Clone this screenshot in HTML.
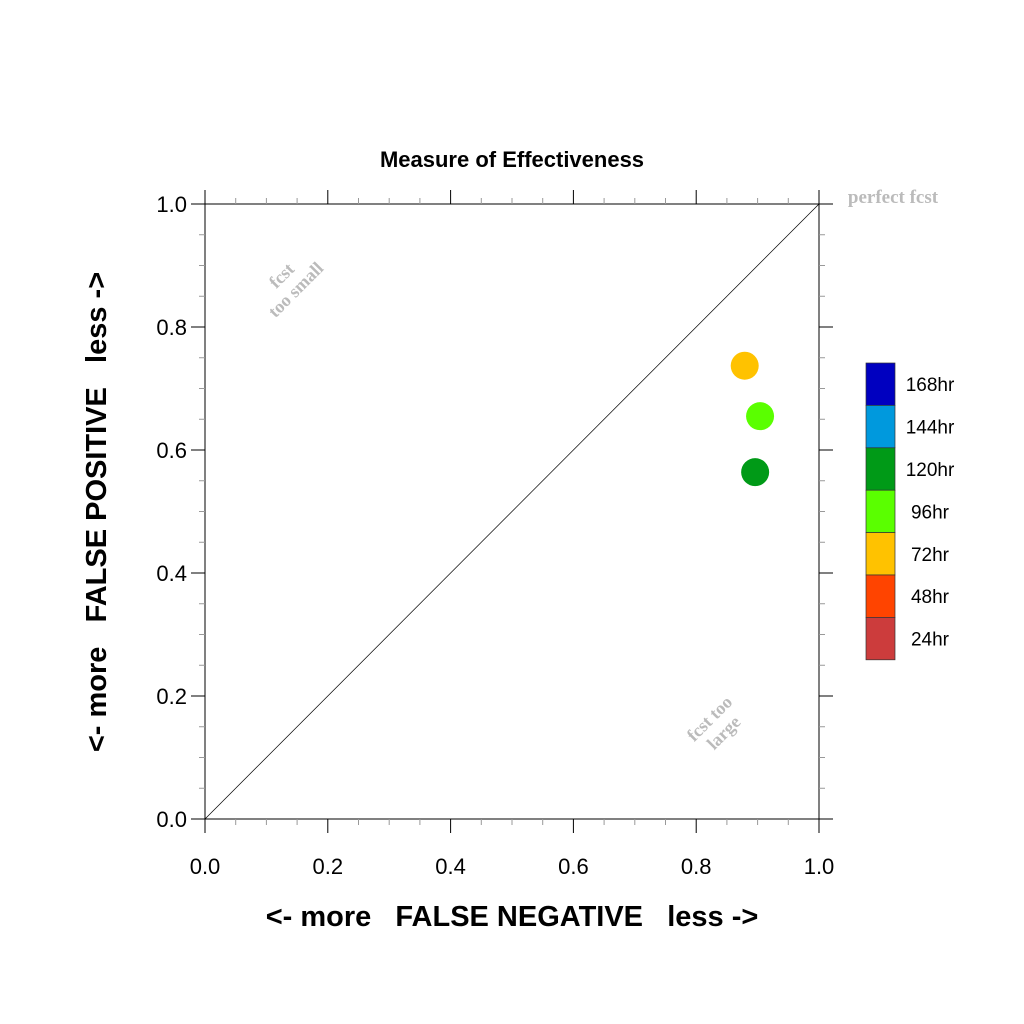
<!DOCTYPE html>
<html><head><meta charset="utf-8"><style>body{margin:0;background:#fff}svg{display:block}</style></head>
<body>
<svg width="1024" height="1024" xmlns="http://www.w3.org/2000/svg" font-family="Liberation Sans, sans-serif">
<rect width="1024" height="1024" fill="#fff"/>
<text x="512" y="167" text-anchor="middle" font-size="22" font-weight="bold">Measure of Effectiveness</text>
<g id="axes"></g>
<g id="marks"></g>
<g id="legend"></g>
<text x="512" y="926" text-anchor="middle" font-size="29" font-weight="bold" xml:space="preserve">&lt;- more   FALSE NEGATIVE   less -&gt;</text>
<text transform="translate(106,512) rotate(-90)" text-anchor="middle" font-size="29" font-weight="bold" xml:space="preserve">&lt;- more   FALSE POSITIVE   less -&gt;</text>
<text x="893" y="203" text-anchor="middle" font-size="19" font-weight="bold" fill="#bbb" font-family="Liberation Serif, serif">perfect fcst</text>
<g transform="translate(290,284) rotate(-45)" fill="#bbb" font-family="Liberation Serif, serif" font-weight="bold" font-size="18" text-anchor="middle"><text x="0" y="-6">fcst</text><text x="0" y="14">too small</text></g>
<g transform="translate(718,727) rotate(-45)" fill="#bbb" font-family="Liberation Serif, serif" font-weight="bold" font-size="18" text-anchor="middle"><text x="0" y="-6">fcst too</text><text x="0" y="14">large</text></g>
</svg>
<script>
const ns="http://www.w3.org/2000/svg";
const seriesLabels=["72hr","96hr","120hr"];
const xValues=[0.879,0.904,0.896];
const yValues=[0.737,0.655,0.564];
const seriesColors=["#ffc200","#5aff00","#009a17"];
const legendLabels=["168hr","144hr","120hr","96hr","72hr","48hr","24hr"];
const legendColors=["#0000c0","#0099dd","#009a17","#5aff00","#ffc200","#ff4400","#cc3c3c"];
const tickLabels=["0.0","0.2","0.4","0.6","0.8","1.0"];
const X0=205,X1=819,Y0=819,Y1=204;
const sx=v=>X0+(X1-X0)*v, sy=v=>Y0-(Y0-Y1)*v;
function mk(t,a,p){const e=document.createElementNS(ns,t);for(const k in a)e.setAttribute(k,a[k]);p.appendChild(e);return e;}
const ax=document.getElementById('axes');
const frame=mk('rect',{x:X0,y:Y1,width:X1-X0,height:Y0-Y1,fill:'none',stroke:'#000','stroke-width':1},ax);


const diag=mk('line',{x1:sx(0),y1:sy(0),x2:sx(1),y2:sy(1),stroke:'#000','stroke-width':0.7},ax);


for(let i=0;i<=20;i++){const v=i/20,maj=i%4===0,L=maj?14:6,c=maj?'#000':'#999';
 mk('line',{x1:sx(v),x2:sx(v),y1:Y0,y2:Y0+L,stroke:c},ax);
 mk('line',{x1:sx(v),x2:sx(v),y1:Y1,y2:Y1-L,stroke:c},ax);
 mk('line',{y1:sy(v),y2:sy(v),x1:X0,x2:X0-L,stroke:c},ax);
 mk('line',{y1:sy(v),y2:sy(v),x1:X1,x2:X1+L,stroke:c},ax);}
tickLabels.forEach((t,i)=>{const v=parseFloat(t);
 const a=mk('text',{x:sx(v),y:Y0+55,'text-anchor':'middle','font-size':22},ax);a.textContent=t;
 
 
 const b=mk('text',{x:X0-18,y:sy(v)+8,'text-anchor':'end','font-size':22},ax);b.textContent=t;
 
 });
const mg=document.getElementById('marks');
xValues.forEach((x,i)=>{const c=mk('circle',{cx:sx(x),cy:sy(yValues[i]),r:14,fill:seriesColors[i]},mg);
 
 });
const lg=document.getElementById('legend');
const LX=866,LY=363,LW=29,LH=42.4;
legendLabels.forEach((t,i)=>{const r=mk('rect',{x:LX,y:LY+i*LH,width:LW,height:LH,fill:legendColors[i],stroke:'#333','stroke-width':0.7},lg);
 
 
 const tx=mk('text',{x:930,y:LY+i*LH+LH/2+7,'text-anchor':'middle','font-size':19},lg);tx.textContent=t;
 
 });
</script>
</body></html>
